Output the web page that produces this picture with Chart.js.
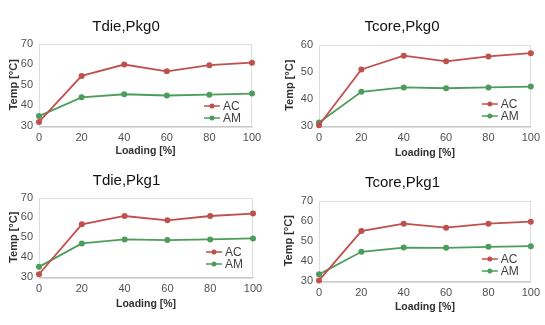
<!DOCTYPE html>
<html>
<head>
<meta charset="utf-8">
<script src="https://cdn.jsdelivr.net/npm/chart.js@4.4.1/dist/chart.umd.min.js"></script>
<style>
    body { margin: 0; background: #fff; }
    #wrap { position: relative; width: 545px; height: 325px; }
    canvas { position: absolute; }
</style>
</head>
<body>
<div id="wrap">
    <canvas id="c1" width="272" height="162" style="left:0;top:0"></canvas>
    <canvas id="c2" width="273" height="162" style="left:272px;top:0"></canvas>
    <canvas id="c3" width="272" height="163" style="left:0;top:162px"></canvas>
    <canvas id="c4" width="273" height="163" style="left:272px;top:162px"></canvas>
</div>
<script>
// ================= DATA =================
const loading = [0, 20, 40, 60, 80, 100];
const seriesNames = ["AC", "AM"];
const titles = ["Tdie,Pkg0", "Tcore,Pkg0", "Tdie,Pkg1", "Tcore,Pkg1"];

const tdiePkg0AC  = [32.0, 54.3, 59.8, 56.5, 59.5, 60.7];
const tdiePkg0AM  = [34.8, 43.9, 45.4, 44.8, 45.2, 45.7];
const tcorePkg0AC = [30.3, 50.8, 55.9, 53.8, 55.6, 56.8];
const tcorePkg0AM = [31.3, 42.6, 44.2, 43.9, 44.2, 44.5];
const tdiePkg1AC  = [31.4, 56.5, 60.7, 58.5, 60.7, 61.9];
const tdiePkg1AM  = [35.1, 46.9, 48.9, 48.6, 48.9, 49.4];
const tcorePkg1AC = [30.3, 54.8, 58.5, 56.5, 58.5, 59.5];
const tcorePkg1AM = [33.3, 44.5, 46.6, 46.5, 47.0, 47.3];

const yMax = [70, 60, 70, 70];

// ================= STYLE =================
const FONT = "'Liberation Sans', Arial, sans-serif";
const RED = "#c0504d";
const GREEN = "#4e9c5c";

// per panel layout (pixels inside each canvas)
const layouts = [
    { yW: 39, yTitlePad: 7,  xH: 36, xTitlePad: 5,  right: 20, tTop: 17.5, tBot: 8,  legX: 48, legY: 20 },
    { yW: 47, yTitlePad: 11, xH: 36, xTitlePad: 3,  right: 13, tTop: 17.5, tBot: 9,  legX: 49, legY: 22 },
    { yW: 39, yTitlePad: 7,  xH: 48, xTitlePad: 15, right: 19, tTop: 9.5,  tBot: 8,  legX: 47, legY: 25 },
    { yW: 47, yTitlePad: 10, xH: 44, xTitlePad: 12, right: 12, tTop: 11.5, tBot: 9,  legX: 49, legY: 22 }
];

// ================= PLUGINS =================
// light plot-area border, like the Excel original
const plotBorder = {
    id: "plotBorder",
    beforeDatasetsDraw(chart) {
        const a = chart.chartArea;
        const ctx = chart.ctx;
        ctx.save();
        ctx.strokeStyle = "#dedede";
        ctx.lineWidth = 1;
        ctx.strokeRect(Math.round(a.left) + 0.5, Math.round(a.top) + 0.5,
            Math.round(a.right - a.left) - 1, Math.round(a.bottom - a.top));
        ctx.restore();
    }
};

// legend drawn inside the plot area, bottom right
const innerLegend = {
    id: "innerLegend",
    afterDraw(chart, args, opts) {
        const a = chart.chartArea;
        const ctx = chart.ctx;
        ctx.save();
        ctx.font = "12px " + FONT;
        ctx.textBaseline = "middle";
        chart.data.datasets.forEach((ds, i) => {
            const x = a.right - opts.x;
            const y = a.bottom - opts.y + i * 12;
            ctx.strokeStyle = ds.borderColor;
            ctx.lineWidth = 1.5;
            ctx.beginPath();
            ctx.moveTo(x, y);
            ctx.lineTo(x + 16, y);
            ctx.stroke();
            ctx.fillStyle = ds.borderColor;
            ctx.beginPath();
            ctx.arc(x + 8, y, 2.5, 0, Math.PI * 2);
            ctx.fill();
            ctx.fillStyle = "#404040";
            ctx.fillText(ds.label, x + 19, y + 0.5);
        });
        ctx.restore();
    }
};

// ================= CHARTS =================
function makeChart(id, idx, ac, am) {
    const L = layouts[idx];
    const line = (label, data, color) => ({
        label, data,
        borderColor: color,
        backgroundColor: color,
        borderWidth: 1.8,
        pointRadius: 3,
        pointBorderWidth: 0,
        clip: false,
        tension: 0
    });

    return new Chart(document.getElementById(id), {
        type: "line",
        data: {
            labels: loading,
            datasets: [line(seriesNames[0], ac, RED), line(seriesNames[1], am, GREEN)]
        },
        plugins: [plotBorder, innerLegend],
        options: {
            responsive: false,
            animation: false,
            devicePixelRatio: 1,
            layout: { padding: { left: 0, right: L.right, top: 0, bottom: 0 } },
            plugins: {
                legend: { display: false },
                tooltip: { enabled: false },
                title: {
                    display: true,
                    text: titles[idx],
                    color: "#111",
                    font: { family: FONT, size: 15, weight: "normal" },
                    padding: { top: L.tTop, bottom: L.tBot }
                },
                innerLegend: { x: L.legX, y: L.legY }
            },
            scales: {
                x: {
                    offset: false,
                    grid: { display: false, drawTicks: false },
                    border: { display: true, color: "#c8c8c8" },
                    ticks: { color: "#505050", padding: 5, font: { family: FONT, size: 11 }, maxRotation: 0 },
                    title: {
                        display: true,
                        text: "Loading [%]",
                        color: "#303030",
                        font: { family: FONT, size: 10.5, weight: "bold" },
                        padding: { top: 0, bottom: L.xTitlePad }
                    },
                    afterFit(s) { s.height = L.xH; }
                },
                y: {
                    min: 30,
                    max: yMax[idx],
                    grid: { display: false, drawTicks: false },
                    border: { display: false },
                    ticks: { stepSize: 10, color: "#505050", padding: 6, font: { family: FONT, size: 11 } },
                    title: {
                        display: true,
                        text: "Temp [°C]",
                        color: "#303030",
                        font: { family: FONT, size: 11, weight: "bold" },
                        padding: { top: L.yTitlePad, bottom: 0 }
                    },
                    afterFit(s) { s.width = L.yW; }
                }
            }
        }
    });
}

makeChart("c1", 0, tdiePkg0AC, tdiePkg0AM);
makeChart("c2", 1, tcorePkg0AC, tcorePkg0AM);
makeChart("c3", 2, tdiePkg1AC, tdiePkg1AM);
makeChart("c4", 3, tcorePkg1AC, tcorePkg1AM);
</script>
</body>
</html>
